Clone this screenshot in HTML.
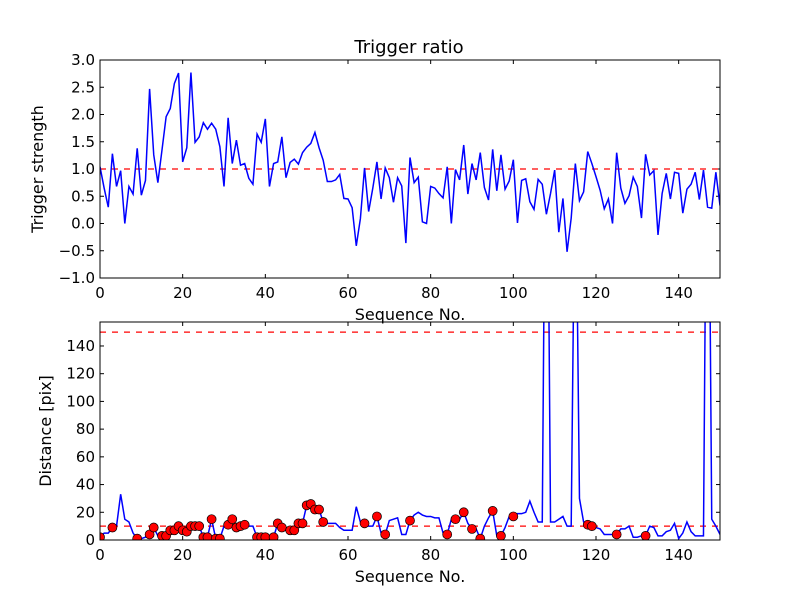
<!DOCTYPE html>
<html><head><meta charset="utf-8"><style>body{margin:0;background:#fff}svg{display:block}text{font-family:"DejaVu Sans","Liberation Sans",sans-serif;fill:#000}</style></head>
<body>
<svg id="c" width="800" height="600" xmlns="http://www.w3.org/2000/svg">
<rect width="800" height="600" fill="#fff"/>
<defs><clipPath id="cp1"><rect x="100" y="60" width="620" height="218"/></clipPath><clipPath id="cp2"><rect x="100" y="322" width="620" height="218"/></clipPath></defs>
<text x="409" y="53" font-size="18" text-anchor="middle">Trigger ratio</text>
<g id="g1"></g><g id="g2"></g>
</svg>
<script>
const ratio=[1.04,0.65,0.3,1.28,0.68,0.97,0.0,0.68,0.54,1.38,0.52,0.79,2.47,1.26,0.75,1.35,1.96,2.11,2.57,2.76,1.13,1.39,2.77,1.49,1.59,1.85,1.73,1.84,1.73,1.41,0.68,1.94,1.1,1.53,1.07,1.1,0.83,0.72,1.64,1.49,1.92,0.68,1.1,1.13,1.59,0.84,1.12,1.18,1.09,1.3,1.4,1.47,1.67,1.39,1.16,0.77,0.77,0.8,0.9,0.46,0.45,0.29,-0.41,0.09,1.02,0.22,0.65,1.13,0.45,1.02,0.84,0.39,0.84,0.69,-0.36,1.21,0.75,0.85,0.03,0.0,0.68,0.65,0.55,0.47,1.04,0.0,0.99,0.8,1.44,0.54,1.1,0.8,1.3,0.66,0.43,1.36,0.6,1.26,0.63,0.78,1.17,0.01,0.79,0.82,0.4,0.26,0.81,0.72,0.17,0.55,0.98,-0.16,0.46,-0.52,0.1,1.1,0.42,0.58,1.32,1.1,0.86,0.61,0.27,0.45,0.0,1.3,0.65,0.37,0.51,0.85,0.68,0.1,1.27,0.89,0.97,-0.21,0.55,0.92,0.45,0.94,0.92,0.19,0.63,0.72,0.94,0.44,0.98,0.3,0.28,0.94,0.33];
const dist=[2,5,5,9,10,33,15,13,5,1,1,2,4,9,3,3,3,7,7,10,7,6,10,10,10,2,2,15,1,1,10,11,15,9,10,11,10,10,2,2,2,2,2,12,9,8,7,7,12,12,25,26,22,22,13,12,12,12,9,7,7,7,24,13,12,10,10,17,5,4,14,15,16,4,4,14,18,20,18,17,17,16,16,5,4,15,15,15,20,12,8,8,1,10,16,21,3,3,9,17,17,19,19,20,28,20,13,13,400,13,13,15,17,10,10,300,30,13,11,10,9,8,4,4,4,4,8,8,10,2,2,3,3,10,9,3,3,6,7,12,1,5,13,6,3,3,3,400,15,10,4];
const markIdx=[0,3,9,12,13,15,16,17,18,19,20,21,22,23,24,25,26,27,28,29,31,32,33,34,35,38,39,40,42,43,44,46,47,48,49,50,51,52,53,54,64,67,69,75,84,86,88,90,92,95,97,100,118,119,125,132];
const xTicks=[0,20,40,60,80,100,120,140];
const y1Ticks=[-1.0,-0.5,0.0,0.5,1.0,1.5,2.0,2.5,3.0];
const y2Ticks=[0,20,40,60,80,100,120,140];
const thr1=1.0, thr2a=10, thr2b=150;
const NS='http://www.w3.org/2000/svg';
function el(t,a,p){const e=document.createElementNS(NS,t);for(const k in a)e.setAttribute(k,a[k]);p.appendChild(e);return e;}
const L=100,R=720;
const xs=v=>L+(v/150)*(R-L);
const y1=v=>278-(v+1)/4*218;
const y2=v=>540-v/157.3*218;
function axes(g,top,bot,yf,yt,fmt,ylab,yname){
  xTicks.forEach(t=>{const x=xs(t);
    let a=el('line',{x1:x,x2:x,y1:bot,y2:bot-4,stroke:'#000'},g);
    el('line',{x1:x,x2:x,y1:top,y2:top+4,stroke:'#000'},g);
    const tx=el('text',{x:x,y:bot+20,'font-size':'15','text-anchor':'middle'},g);tx.textContent=t;
    });
  yt.forEach(t=>{const y=yf(t);
    el('line',{x1:L,x2:L+4,y1:y,y2:y,stroke:'#000'},g);el('line',{x1:R,x2:R-4,y1:y,y2:y,stroke:'#000'},g);
    const tx=el('text',{x:L-5,y:y+5,'font-size':'15','text-anchor':'end'},g);tx.textContent=fmt(t);
    });
  const xl=el('text',{x:410,y:bot+42,'font-size':'16','text-anchor':'middle'},g);xl.textContent='Sequence No.';
  
  const cy=(top+bot)/2;
  const yl=el('text',{x:0,y:0,'font-size':'16','text-anchor':'middle',transform:`translate(${yname},${cy}) rotate(-90)`},g);yl.textContent=ylab;
  
}
const g1=document.getElementById('g1'),g2=document.getElementById('g2');
axes(g1,60,278,y1,y1Ticks,t=>t.toFixed(1).replace('-','\u2212'),'Trigger strength',43);
axes(g2,322,540,y2,y2Ticks,t=>String(t),'Distance [pix]',51);
let h=el('line',{x1:L,x2:R,y1:y1(thr1),y2:y1(thr1),stroke:'#f00','stroke-dasharray':'6,6','stroke-width':'1.2'},g1);

let p=el('polyline',{points:ratio.map((v,i)=>xs(i)+','+y1(v)).join(' '),fill:'none',stroke:'#00f','stroke-width':'1.5','clip-path':'url(#cp1)'},g1);

[thr2a,thr2b].forEach(t=>{const l=el('line',{x1:L,x2:R,y1:y2(t),y2:y2(t),stroke:'#f00','stroke-dasharray':'6,6','stroke-width':'1.2'},g2);
  });
let p2=el('polyline',{points:dist.map((v,i)=>xs(i)+','+y2(v)).join(' '),fill:'none',stroke:'#00f','stroke-width':'1.5','clip-path':'url(#cp2)'},g2);

markIdx.forEach(i=>{const c=el('circle',{cx:xs(i),cy:y2(dist[i]),r:4.5,fill:'#f00',stroke:'#000','stroke-width':'0.7','clip-path':'url(#cp2)'},g2);
  });
[[60],[322]].forEach(([t])=>{const f=el('rect',{x:L,y:t,width:R-L,height:218,fill:'none',stroke:'#000','stroke-width':'1'},document.getElementById('c'));
  });
</script>
</body></html>
